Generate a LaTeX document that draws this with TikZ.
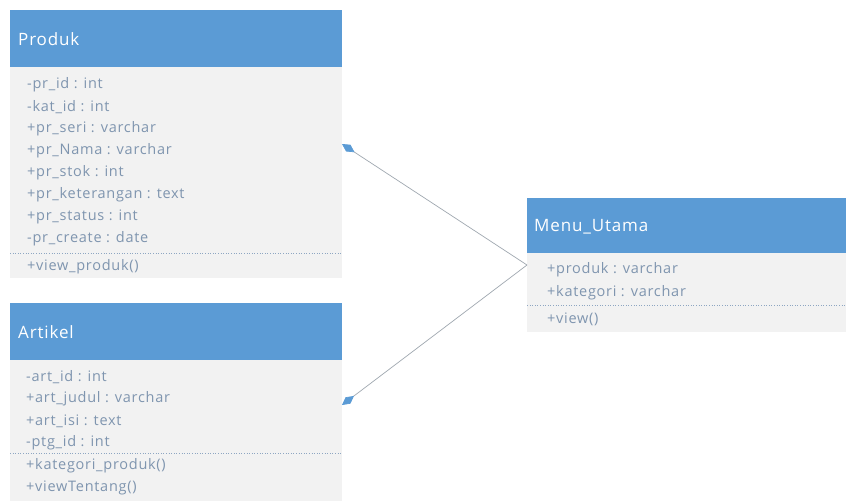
\documentclass[tikz,border=0pt]{standalone}
\usepackage{fontspec}
\setmainfont{Open Sans}
\newfontfamily\attrfont[LetterSpace=5]{Open Sans}
\newfontfamily\titlefont[LetterSpace=5]{Open Sans}
\usetikzlibrary{arrows.meta}
\definecolor{hdrblue}{HTML}{5B9BD5}
\definecolor{bodygray}{HTML}{F2F2F2}
\definecolor{attrtxt}{HTML}{7F95AF}
\definecolor{sepcol}{HTML}{8EA6C2}
\definecolor{linecol}{HTML}{A0A8B0}
\begin{document}
\begin{tikzpicture}[x=1pt,y=-1pt,
  hdr/.style={fill=hdrblue,draw=none,anchor=north west,inner sep=0pt},
  bodybox/.style={fill=bodygray,draw=none,anchor=north west,inner sep=0pt},
  title/.style={anchor=west,text=white,font=\titlefont\fontsize{17}{19}\selectfont,inner sep=0pt},
  attr/.style={anchor=west,text=attrtxt,font=\attrfont\fontsize{14.5}{16}\selectfont,inner sep=0pt},
  sep/.style={draw=sepcol,dotted,line width=0.6pt},
  assoc/.style={draw=linecol,line width=0.7pt,-{Diamond[length=15pt,width=8pt,fill=hdrblue,color=hdrblue]}}]
\useasboundingbox (0,0) rectangle (846,501);
\fill[white] (0,0) rectangle (846,501);
% Produk
\node[bodybox,minimum width=332pt,minimum height=211pt] (produkB) at (10,67) {};
\node[hdr,minimum width=332pt,minimum height=57pt] (produkH) at (10,10) {};
\node[title] (produkT) at (18,39) {Produk};
\node[attr] (p1) at (27,85) {-pr\_id : int};
\node[attr] (p2) at (27,107) {-kat\_id : int};
\node[attr] (p3) at (27,129) {+pr\_seri : varchar};
\node[attr] (p4) at (27,151) {+pr\_Nama : varchar};
\node[attr] (p5) at (27,173) {+pr\_stok : int};
\node[attr] (p6) at (27,195) {+pr\_keterangan : text};
\node[attr] (p7) at (27,217) {+pr\_status : int};
\node[attr] (p8) at (27,239) {-pr\_create : date};
\draw[sep] (10,253) -- (342,253);
\node[attr] (p9) at (27,267) {+view\_produk()};
% Artikel
\node[bodybox,minimum width=332pt,minimum height=141pt] (artB) at (10,360) {};
\node[hdr,minimum width=332pt,minimum height=57pt] (artH) at (10,303) {};
\node[title] (artT) at (18,332) {Artikel};
\node[attr] (a1) at (26,377) {-art\_id : int};
\node[attr] (a2) at (26,399) {+art\_judul : varchar};
\node[attr] (a3) at (26,421) {+art\_isi : text};
\node[attr] (a4) at (26,443) {-ptg\_id : int};
\draw[sep] (10,453) -- (342,453);
\node[attr] (a5) at (26,466) {+kategori\_produk()};
\node[attr] (a6) at (26,488) {+viewTentang()};
% Menu_Utama
\node[bodybox,minimum width=319pt,minimum height=79pt] (menuB) at (527,253) {};
\node[hdr,minimum width=319pt,minimum height=55pt] (menuH) at (527,198) {};
\node[title] (menuT) at (534,227) {Menu\_Utama};
\node[attr] (m1) at (547,270) {+produk : varchar};
\node[attr] (m2) at (547,293) {+kategori : varchar};
\draw[sep] (527,305) -- (846,305);
\node[attr] (m3) at (547,319) {+view()};
% connectors
\coordinate (menuL) at (527,265);
\coordinate (produkEnd) at (342,144);
\coordinate (artEnd) at (342,405);
\draw[assoc] (menuL) -- (produkEnd);
\draw[assoc] (menuL) -- (artEnd);
\end{tikzpicture}
\end{document}
